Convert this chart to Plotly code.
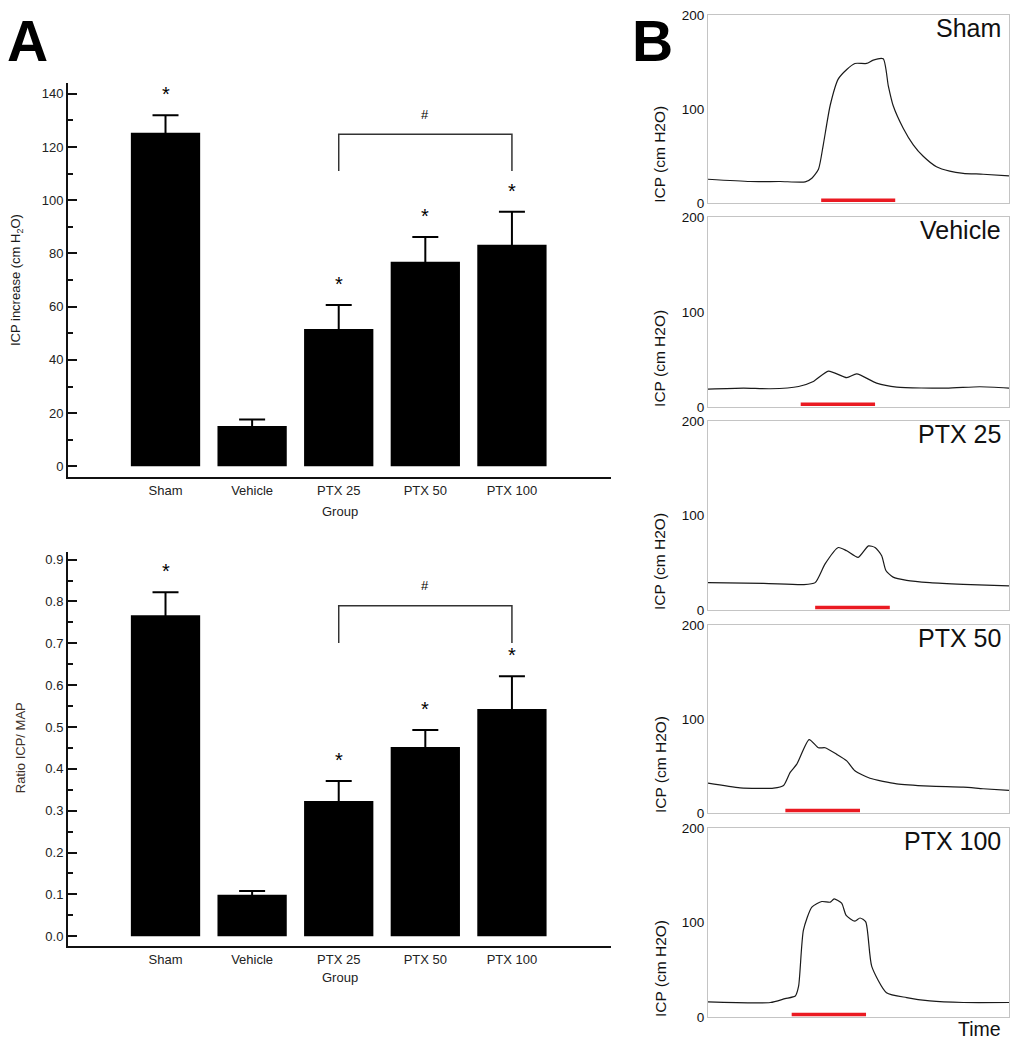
import plotly.graph_objects as go

# panel A data
groups = ["Sham", "Vehicle", "PTX 25", "PTX 50", "PTX 100"]
icp_mean = [125.3, 15.2, 51.6, 76.9, 83.3]
icp_err = [6.6, 2.4, 9.0, 9.3, 12.4]
ratio_mean = [0.767, 0.099, 0.323, 0.452, 0.543]
ratio_err = [0.055, 0.009, 0.048, 0.041, 0.078]
signif = [True, False, True, True, True]
bracket_pair = [2, 4]
icp_bracket = [111, 124.8]
ratio_bracket = [0.701, 0.790]

# panel B traces (time in % of window, ICP in cm H2O)
sham_t = [0, 14.0, 24.0, 32.3, 34.5, 36.7, 38.3, 40.6, 43.3, 46.1, 48.8, 52.7, 54.9, 58.2,
          59.9, 61.5, 64.9, 68.2, 71.5, 75.9, 80.3, 84.8, 91.4, 100]
sham_icp = [25.4, 23, 23, 22.6, 26.5, 36, 62, 104, 132, 142, 148.4, 148.4, 152, 153.3,
            124.7, 103.8, 79.4, 62, 49.8, 38.7, 34, 31.7, 30.7, 28.9]
vehicle_t = [0, 11.8, 20.7, 30.1, 35.0, 40.0, 46.1, 49.4, 56.0, 62.7, 79.2, 90.3, 100]
vehicle_icp = [19, 20, 19.4, 21.8, 27, 38, 31.1, 35, 25.3, 21.1, 20, 21.5, 20]
ptx25_t = [0, 18.5, 31.7, 35.6, 38.9, 43.3, 46.1, 49.9, 53.3, 55.5, 57.7, 59.1, 61.5, 66.0,
           73.7, 84.8, 100]
ptx25_icp = [29.2, 28.5, 27.1, 29.2, 49, 66.3, 62.8, 55.9, 68, 66.3, 57.6, 42, 35, 31.6,
             29.2, 27.4, 25.7]
ptx50_t = [0, 10.7, 21.8, 25.1, 27.3, 29.5, 33.6, 36.7, 38.9, 42.8, 46.1, 48.8, 53.8, 62.7,
           73.7, 84.8, 91.4, 100]
ptx50_icp = [32, 27.1, 26.8, 29.6, 43.5, 52.2, 78.3, 69.6, 69.6, 62.6, 55.7, 45.2, 37.2, 31.3,
             28.9, 27.8, 26.1, 24.3]
ptx100_t = [0, 20.7, 25.6, 29.0, 30.1, 31.7, 34.5, 37.8, 40.6, 41.9, 44.4, 45.9, 48.8, 50.5,
            52.4, 54.4, 59.3, 66.0, 73.7, 84.8, 100]
ptx100_icp = [16.3, 15.7, 19.8, 22.6, 33, 92.2, 116.5, 122.4, 121.7, 125.2, 120.7, 107.8, 101.6,
              105, 100.9, 53.9, 26.1, 20.9, 17.4, 15.7, 15.7]
stim_on = [37.6, 30.8, 35.6, 25.7, 27.8]
stim_off = [62.2, 55.5, 60.4, 50.5, 52.5]
stim_level = 3

traces_t = [sham_t, vehicle_t, ptx25_t, ptx50_t, ptx100_t]
traces_icp = [sham_icp, vehicle_icp, ptx25_icp, ptx50_icp, ptx100_icp]

W, H = 1010, 1050
FONT = "Liberation Sans, Arial, sans-serif"
xs = list(range(len(groups)))

fig = go.Figure()
annos = []


def px_x(p):
    return p / W


def px_y(p):
    return 1 - p / H


def bar_panel(n, mean, err, bracket):
    xa = "x" if n == 1 else "x%d" % n
    ya = "y" if n == 1 else "y%d" % n
    # symmetric bars: the lower half is hidden inside the black bar
    fig.add_trace(go.Bar(
        x=xs, y=mean, xaxis=xa, yaxis=ya,
        marker=dict(color="black", line=dict(width=0)),
        error_y=dict(type="data", array=err, color="black",
                     thickness=2, width=13),
    ))
    for i, s in enumerate(signif):
        if s:
            annos.append(dict(x=xs[i], y=mean[i] + err[i], xref=xa, yref=ya,
                              text="*", showarrow=False, yshift=21,
                              font=dict(size=20, color="black", family=FONT)))
    a, b = bracket_pair
    fig.add_trace(go.Scatter(
        x=[a, a, b, b], y=[bracket[0], bracket[1], bracket[1], bracket[0]],
        xaxis=xa, yaxis=ya, mode="lines",
        line=dict(color="#333", width=1.5), hoverinfo="skip"))
    annos.append(dict(x=(a + b) / 2, y=bracket[1], xref=xa, yref=ya, text="#",
                      showarrow=False, yshift=20,
                      font=dict(size=13, color="black", family=FONT)))


bar_panel(1, icp_mean, icp_err, icp_bracket)
bar_panel(2, ratio_mean, ratio_err, ratio_bracket)

# B panels
b_tops = [8, 213, 420, 627, 833]
b_bots = [199, 406, 612, 818, 1025]
for k in range(5):
    n = k + 3
    fig.add_trace(go.Scatter(
        x=traces_t[k], y=traces_icp[k], xaxis="x%d" % n, yaxis="y%d" % n,
        mode="lines", line=dict(color="#1a1a1a", width=1.2, shape="spline",
                                smoothing=0.6)))
    fig.add_trace(go.Scatter(
        x=[stim_on[k], stim_off[k]], y=[stim_level, stim_level],
        xaxis="x%d" % n, yaxis="y%d" % n,
        mode="lines", line=dict(color="#ea1a22", width=3.5)))

ax_a = dict(showgrid=False, zeroline=False, showline=True, linewidth=2,
            linecolor="#111")

lay = dict(
    width=W, height=H, margin=dict(l=0, r=0, t=0, b=0),
    paper_bgcolor="white", plot_bgcolor="white", showlegend=False,
    bargap=0.2,
    font=dict(family=FONT, color="#222"),
)

xa_common = dict(ax_a, domain=[px_x(68), px_x(611)], range=[-1.126, 5.144],
                 tickvals=xs, ticktext=groups, ticks="",
                 tickfont=dict(size=13, color="#222"))
lay["xaxis"] = dict(xa_common, anchor="y")
lay["xaxis2"] = dict(xa_common, anchor="y2")
lay["yaxis"] = dict(ax_a, anchor="x", domain=[px_y(477), px_y(77)],
                    range=[-4.07, 144.07], tickvals=list(range(0, 141, 20)),
                    ticks="inside", ticklen=9, tickwidth=2, tickcolor="#111",
                    minor=dict(dtick=10, tick0=0, ticks="inside", ticklen=5,
                               tickwidth=2, tickcolor="#111"),
                    tickfont=dict(size=13, color="#222"))
lay["yaxis2"] = dict(ax_a, anchor="x2", domain=[px_y(953), px_y(553)],
                     range=[-0.0243, 0.918], tickvals=[i / 10 for i in range(10)],
                     tickformat=".1f",
                     ticks="inside", ticklen=9, tickwidth=2, tickcolor="#111",
                     minor=dict(dtick=0.05, tick0=0, ticks="inside", ticklen=5,
                                tickwidth=2, tickcolor="#111"),
                     tickfont=dict(size=13, color="#222"))

ax_b = dict(showgrid=False, zeroline=False, showline=True, mirror=True,
            linewidth=1, linecolor="#c4c4c4", ticks="")
for k in range(5):
    n = k + 3
    lay["xaxis%d" % n] = dict(ax_b, anchor="y%d" % n, domain=[px_x(708), px_x(1009)],
                             range=[0, 100], showticklabels=False)
    lay["yaxis%d" % n] = dict(ax_b, anchor="x%d" % n,
                             domain=[px_y(b_bots[k]), px_y(b_tops[k])],
                             range=[0, 200], tickvals=[0, 100, 200],
                             tickfont=dict(size=13.5, color="#111"))
    annos.append(dict(x=px_x(1003), y=px_y(b_tops[k] + 13), xref="paper", yref="paper",
                      xanchor="right", yanchor="middle", text=groups[k],
                      showarrow=False, font=dict(size=25, color="#111", family=FONT)))
    annos.append(dict(x=px_x(660), y=px_y(b_bots[k] - 49), xref="paper", yref="paper",
                      xanchor="center", yanchor="middle", text="ICP (cm H2O)",
                      textangle=-90, showarrow=False,
                      font=dict(size=15.5, color="#111", family=FONT)))

annos += [
    dict(x=px_x(27), y=1, yanchor="top", text="<b>A</b>",
         font=dict(size=57, color="black")),
    dict(x=px_x(652), y=1, yanchor="top", text="<b>B</b>",
         font=dict(size=57, color="black")),
    dict(x=px_x(1003), y=0, yanchor="bottom", text="Time", xanchor="right",
         font=dict(size=19.5, color="#111")),
    dict(x=px_x(16), y=px_y(277), text="ICP increase (cm H<sub>2</sub>O)", textangle=-90,
         font=dict(size=13, color="#1a1a1a")),
    dict(x=px_x(20), y=px_y(752), text="Ratio ICP/ MAP", textangle=-90,
         font=dict(size=13, color="#3d3028")),
    dict(x=px_x(340), y=px_y(512), text="Group", font=dict(size=13, color="#222")),
    dict(x=px_x(340), y=px_y(985), text="Group", font=dict(size=13, color="#222")),
]
for a in annos:
    a.setdefault("xref", "paper")
    a.setdefault("yref", "paper")
    a.setdefault("showarrow", False)
    a.setdefault("xanchor", "center")
    a.setdefault("yanchor", "middle")
    a["font"].setdefault("family", FONT)

lay["annotations"] = annos
fig.update_layout(**lay)

# drop the default page margin so the figure sits at the window origin
fig.write_html("out.html", config={"displayModeBar": False},
               post_script="document.body.style.margin='0';")
